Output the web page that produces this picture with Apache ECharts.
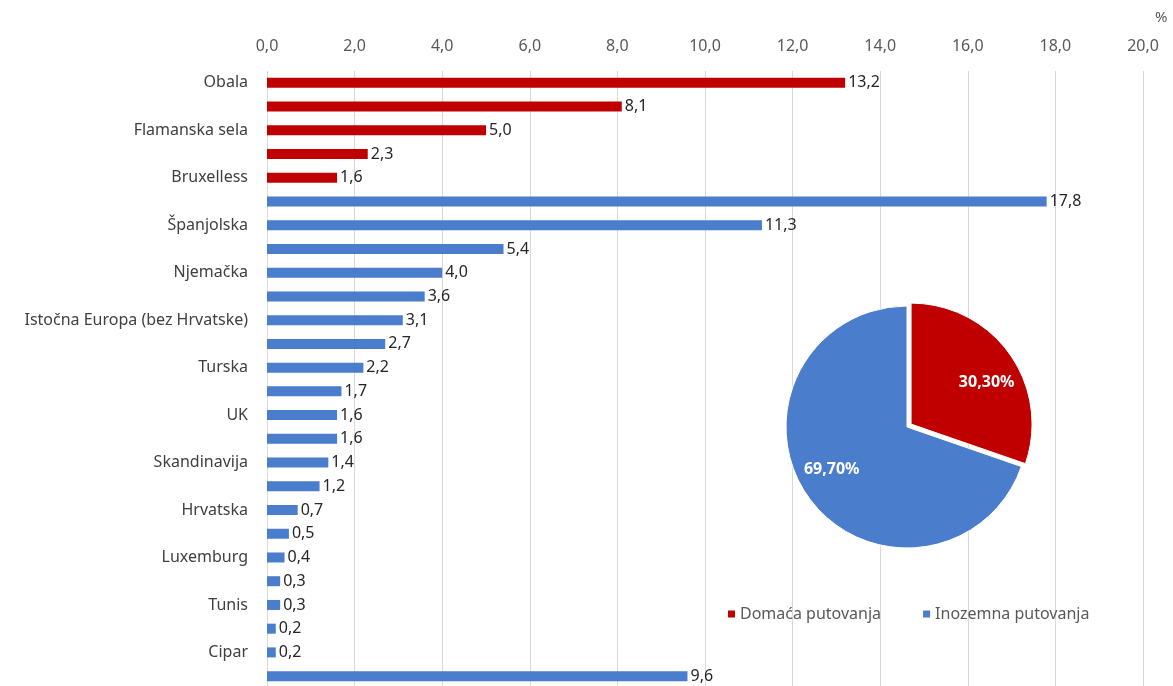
<!DOCTYPE html>
<html lang="hr">
<head>
<meta charset="UTF-8">
<title>Putovanja</title>
<script src="https://cdn.jsdelivr.net/npm/echarts@6/dist/echarts.min.js"></script>
<style>
  html, body { margin: 0; padding: 0; background: #fff; }
</style>
</head>
<body>
<div id="main" style="width:1173px;height:686px;"></div>
<script>
// odredišta (svaki drugi naziv se ne prikazuje na osi)
var categories = [
    'Obala', 'Ardeni', 'Flamanska sela', 'Ostala Valonija', 'Bruxelless',
    'Francuska', 'Španjolska', 'Italija', 'Njemačka', 'Nizozemska',
    'Istočna Europa (bez Hrvatske)', 'Grčka', 'Turska', 'Portugal', 'UK',
    'SAD', 'Skandinavija', 'Austrija', 'Hrvatska', 'Švicarska',
    'Luxemburg', 'Maroko', 'Tunis', 'Egipat', 'Cipar', 'Ostalo'
];
var values = [
    13.2, 8.1, 5.0, 2.3, 1.6,
    17.8, 11.3, 5.4, 4.0, 3.6, 3.1, 2.7, 2.2, 1.7, 1.6, 1.6, 1.4, 1.2,
    0.7, 0.5, 0.4, 0.3, 0.3, 0.2, 0.2, 9.6
];
var domesticCount = 5; // prvih pet su domaća odredišta
var pieNames = ['Domaća putovanja', 'Inozemna putovanja'];
var pieValues = [30.3, 69.7];

var red = '#c00000';
var blue = '#4a7dcb';

function fmt(v, d) {
    return v.toFixed(d).replace('.', ',');
}

var domestic = values.map(function (v, i) { return i < domesticCount ? v : '-'; });
var foreign = values.map(function (v, i) { return i < domesticCount ? '-' : v; });

var labelStyle = {
    show: true,
    position: 'right',
    distance: 3,
    color: '#262626',
    fontSize: 16,
    formatter: function (p) { return fmt(p.value, 1); }
};

var pieData = function (colors) {
    return pieNames.map(function (n, i) {
        return { name: n, value: pieValues[i], selected: i === 0, itemStyle: { color: colors[i] } };
    });
};

var chart = echarts.init(document.getElementById('main'));
var option = {
    animation: false,
    textStyle: { fontFamily: 'Noto Sans' },
    title: {
        text: '%',
        left: 1150,
        top: 5,
        textStyle: { color: '#595959', fontSize: 15, fontWeight: 'normal' }
    },
    grid: { left: 267, right: 30, top: 71, height: 617, outerBoundsMode: 'none' },
    xAxis: {
        type: 'value',
        position: 'top',
        min: 0,
        max: 20,
        interval: 2,
        axisLine: { show: false },
        axisTick: { show: false },
        axisLabel: {
            color: '#595959',
            fontSize: 16,
            margin: 17,
            formatter: function (v) { return fmt(v, 1); }
        },
        splitLine: { lineStyle: { color: '#d9d9d9' } }
    },
    yAxis: {
        type: 'category',
        inverse: true,
        data: categories,
        axisLine: { show: false },
        axisTick: { show: false },
        axisLabel: { interval: 1, color: '#404040', fontSize: 16, margin: 19 }
    },
    legend: {
        data: pieNames,
        left: 723,
        top: 601,
        itemWidth: 7,
        itemHeight: 7,
        itemGap: 42,
        icon: 'rect',
        textStyle: { color: '#595959', fontSize: 16 }
    },
    series: [
        {
            name: pieNames[0],
            type: 'bar',
            stack: 'x',
            barWidth: 10,
            itemStyle: { color: red },
            label: labelStyle,
            data: domestic
        },
        {
            name: pieNames[1],
            type: 'bar',
            stack: 'x',
            barWidth: 10,
            itemStyle: { color: blue },
            label: labelStyle,
            data: foreign
        },
        {
            type: 'pie',
            center: [907, 427],
            radius: 121,
            startAngle: 90,
            clockwise: true,
            selectedMode: 'single',
            selectedOffset: 5,
            itemStyle: { borderColor: '#fff', borderWidth: 1 },
            label: { show: false },
            labelLine: { show: false },
            data: pieData([red, blue])
        },
        {
            // samo za natpise postotaka
            type: 'pie',
            silent: true,
            center: [907, 427],
            radius: [46, 121],
            startAngle: 84,
            clockwise: true,
            selectedMode: 'single',
            selectedOffset: 5,
            label: {
                show: true,
                position: 'inside',
                color: '#fff',
                fontWeight: 'bold',
                fontSize: 16,
                formatter: function (p) { return fmt(p.value, 2) + '%'; }
            },
            labelLine: { show: false },
            data: pieData(['rgba(0,0,0,0)', 'rgba(0,0,0,0)'])
        }
    ]
};
chart.setOption(option);
</script>
</body>
</html>
